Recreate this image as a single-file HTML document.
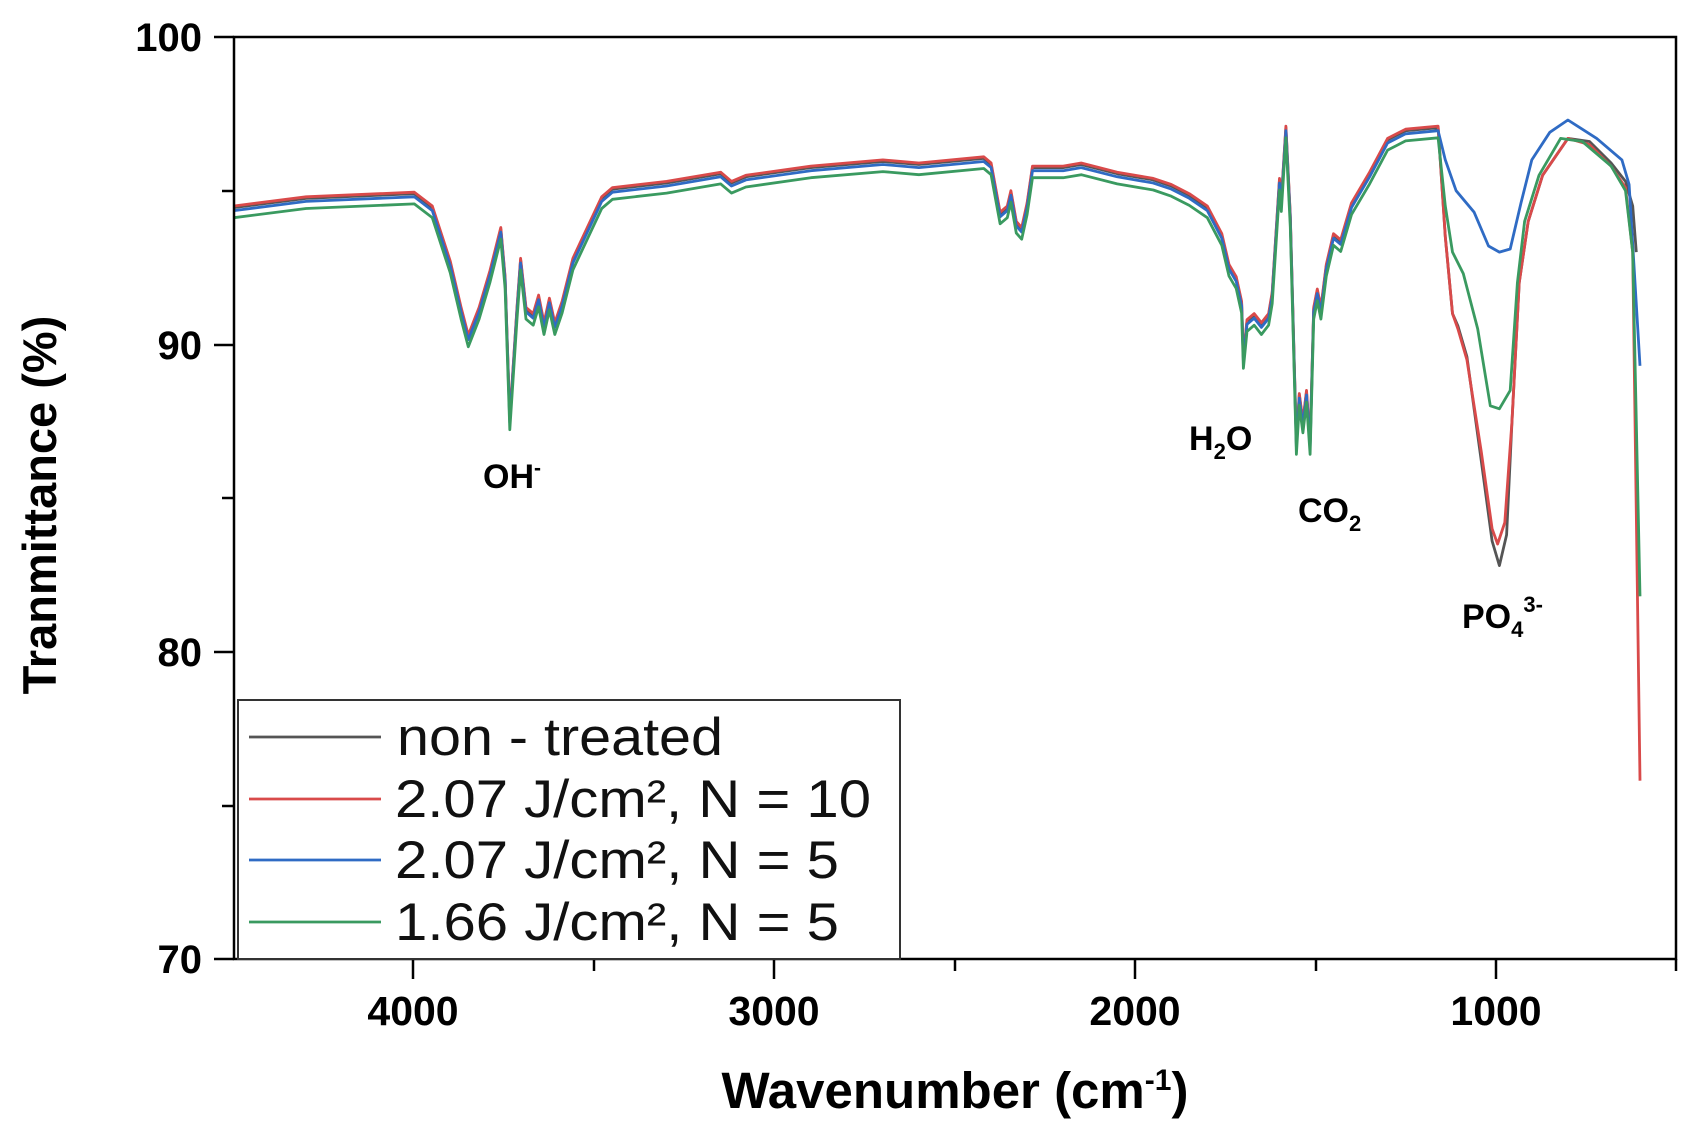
<!DOCTYPE html>
<html><head><meta charset="utf-8"><style>
html,body{margin:0;padding:0;background:#fff;}
svg{display:block;}
text{font-family:"Liberation Sans",Arial,sans-serif;}
</style></head><body>
<svg id="s" width="1688" height="1125" viewBox="0 0 1688 1125" xmlns="http://www.w3.org/2000/svg">
<rect width="1688" height="1125" fill="#fff"/>
<g id="curves" fill="none" stroke-width="2.8" stroke-linejoin="round"></g>
<rect x="234" y="37" width="1442" height="922" fill="none" stroke="#000" stroke-width="2.5"/>
<g stroke="#000" stroke-width="2.5">
<line x1="214" y1="37" x2="234" y2="37"/><line x1="214" y1="345" x2="234" y2="345"/>
<line x1="214" y1="652" x2="234" y2="652"/><line x1="214" y1="959" x2="234" y2="959"/>
<line x1="222" y1="191" x2="234" y2="191"/><line x1="222" y1="498" x2="234" y2="498"/>
<line x1="222" y1="806" x2="234" y2="806"/>
<line x1="413" y1="959" x2="413" y2="979"/><line x1="774" y1="959" x2="774" y2="979"/>
<line x1="1135" y1="959" x2="1135" y2="979"/><line x1="1496" y1="959" x2="1496" y2="979"/>
<line x1="594" y1="959" x2="594" y2="971"/><line x1="955" y1="959" x2="955" y2="971"/>
<line x1="1316" y1="959" x2="1316" y2="971"/><line x1="1676" y1="959" x2="1676" y2="971"/>
</g>
<g font-weight="bold" font-size="40" text-anchor="end">
<text x="202" y="51">100</text><text x="202" y="359">90</text>
<text x="202" y="666">80</text><text x="202" y="973">70</text>
</g>
<g font-weight="bold" font-size="41" text-anchor="middle">
<text x="413" y="1025">4000</text><text x="774" y="1025">3000</text>
<text x="1135" y="1025">2000</text><text x="1496" y="1025">1000</text>
</g>
<text x="955" y="1108" font-weight="bold" font-size="51" text-anchor="middle">Wavenumber (cm<tspan dy="-18" font-size="30">-1</tspan><tspan dy="18">)</tspan></text>
<text transform="translate(56,505) rotate(-90)" font-weight="bold" font-size="47" text-anchor="middle">Tranmittance (%)</text>
<g font-weight="bold" font-size="34">
<text x="483" y="488">OH<tspan dy="-13" font-size="21">-</tspan></text>
<text x="1189" y="450">H<tspan dy="9" font-size="22">2</tspan><tspan dy="-9">O</tspan></text>
<text x="1298" y="522">CO<tspan dy="9" font-size="22">2</tspan></text>
<text x="1462" y="628">PO<tspan dy="9" font-size="22">4</tspan><tspan dy="-25" font-size="22">3-</tspan></text>
</g>
<rect x="238" y="700" width="662" height="259" fill="#fff" stroke="#333" stroke-width="2"/>
<g stroke-width="2.8">
<line x1="249" y1="737" x2="381" y2="737" stroke="#555"/>
<line x1="249" y1="799" x2="381" y2="799" stroke="#d94a4a"/>
<line x1="249" y1="860" x2="381" y2="860" stroke="#2f6bc4"/>
<line x1="249" y1="922" x2="381" y2="922" stroke="#3a9a60"/>
</g>
<g font-size="53" fill="#111" lengthAdjust="spacingAndGlyphs">
<text x="397" y="755" textLength="326" lengthAdjust="spacingAndGlyphs">non - treated</text>
<text x="395" y="817" textLength="476" lengthAdjust="spacingAndGlyphs">2.07 J/cm², N = 10</text>
<text x="395" y="878" textLength="444" lengthAdjust="spacingAndGlyphs">2.07 J/cm², N = 5</text>
<text x="395" y="940" textLength="444" lengthAdjust="spacingAndGlyphs">1.66 J/cm², N = 5</text>
</g>
</svg>
<script>
function X(w){return 234+(4500-w)/4000*1442;}
function Y(t){return 37+(100-t)*30.73;}
var common=[[4500,94.3],[4300,94.6],[4000,94.75],[3950,94.3],[3900,92.5],[3870,91],[3850,90.1],[3820,91],[3790,92.2],[3760,93.6],[3748,92],[3735,87.4],[3715,91],[3705,92.6],[3690,91],[3670,90.8],[3655,91.4],[3640,90.5],[3625,91.3],[3610,90.5],[3590,91.2],[3560,92.6],[3520,93.6],[3480,94.6],[3450,94.9],[3300,95.1],[3150,95.4],[3120,95.1],[3080,95.3],[2900,95.6],[2700,95.8],[2600,95.7],[2420,95.9],[2400,95.7],[2375,94.1],[2355,94.3],[2345,94.8],[2330,93.8],[2315,93.6],[2300,94.4],[2285,95.6],[2200,95.6],[2150,95.7],[2050,95.4],[1950,95.2],[1900,95.0],[1850,94.7],[1800,94.3],[1760,93.4],[1740,92.4],[1720,92.0],[1705,91.2],[1700,89.4],[1690,90.6],[1670,90.8],[1650,90.5],[1630,90.8],[1620,91.5],[1600,95.2],[1595,94.5],[1582,96.9],[1570,94],[1553,86.6],[1545,88.2],[1535,87.3],[1525,88.3],[1515,86.6],[1505,91],[1495,91.6],[1485,91],[1470,92.4],[1450,93.4],[1430,93.2],[1400,94.4],[1350,95.4],[1300,96.5],[1250,96.8],[1160,96.9]];
var tails={
 blue:[[1140,96.0],[1110,95.0],[1060,94.3],[1020,93.2],[990,93.0],[960,93.1],[930,94.6],[900,96.0],[850,96.9],[800,97.3],[720,96.7],[650,96.0],[630,95.2],[600,89.3]],
 green:[[1140,94.5],[1120,93.0],[1090,92.3],[1050,90.5],[1015,88.0],[990,87.9],[960,88.5],[940,92.0],[920,94.0],[880,95.5],[820,96.7],[760,96.6],[680,95.8],[640,95.0],[620,93],[600,81.8]],
 red:[[1140,93.5],[1120,91.0],[1105,90.5],[1080,89.5],[1040,86.5],[1010,84.0],[995,83.5],[975,84.2],[955,87.5],[935,92.0],[910,94.0],[870,95.5],[800,96.7],[740,96.5],[680,95.8],[640,95.1],[620,93],[600,75.8]],
 black:[[1140,93.5],[1120,91.0],[1105,90.6],[1080,89.6],[1040,86.2],[1010,83.6],[990,82.8],[970,83.8],[955,87.5],[935,92.0],[910,94.0],[870,95.5],[800,96.7],[740,96.6],[680,95.9],[640,95.3],[620,94.5],[610,93]]
};
var ser=[["black","#555",0.15],["red","#d94a4a",0.2],["blue","#2f6bc4",0.05],["green","#3a9a60",-0.18]];
var g=document.getElementById("curves"),ns="http://www.w3.org/2000/svg";
ser.forEach(function(s){
 var pts=common.map(function(p){return [p[0],p[1]+s[2]];}).concat(tails[s[0]]);
 var d=pts.map(function(p,i){return (i?"L":"M")+X(p[0]).toFixed(1)+","+Y(p[1]).toFixed(1);}).join("");
 var e=document.createElementNS(ns,"path");e.setAttribute("d",d);e.setAttribute("stroke",s[1]);g.appendChild(e);
});
</script>
</body></html>
